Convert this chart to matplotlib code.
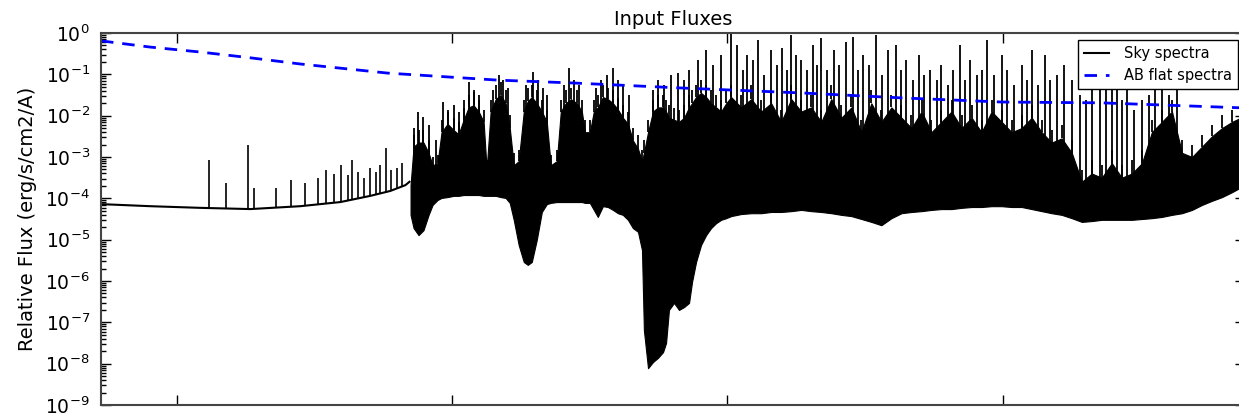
import numpy as np
import matplotlib
matplotlib.use("Agg")
import matplotlib.pyplot as plt

# wavelength in Angstrom, flux given as log10 of erg/s/cm2/A

# AB flat spectrum
ab_wave = [3447, 3803, 4167, 4532, 4896, 5530, 6330, 6884, 7663, 8537, 9265, 9993, 10721, 11733, 11762]
ab_logf = [-0.19, -0.34, -0.46, -0.60, -0.75, -0.97, -1.14, -1.21, -1.33, -1.45, -1.57, -1.67, -1.69, -1.81, -1.82]

# smooth blue continuum of the sky spectrum
cont_wave = [3447, 3803, 4167, 4532, 4896, 5187, 5405, 5551, 5660, 5689]
cont_logf = [-4.14, -4.19, -4.23, -4.26, -4.19, -4.09, -3.94, -3.82, -3.68, -3.60]

# isolated emission lines on the blue continuum
blue_line_wave = [4233, 4357, 4517, 4561, 4721, 4830, 4932, 5027, 5085, 5143, 5194,
                  5245, 5274, 5318, 5362, 5405, 5449, 5478, 5515, 5558, 5602, 5638]
blue_line_top = [-3.07, -3.63, -2.71, -3.75, -3.75, -3.56, -3.63, -3.51, -3.31, -3.41, -3.19,
                 -3.44, -3.07, -3.36, -3.51, -3.27, -3.36, -3.19, -2.78, -3.31, -3.27, -3.15]
blue_line_base = [-4.22, -4.24, -4.26, -4.26, -4.22, -4.20, -4.18, -4.15, -4.12, -4.10, -4.08,
                  -4.05, -4.03, -4.00, -3.97, -3.94, -3.91, -3.88, -3.86, -3.82, -3.77, -3.72]

# red part: lower edge, top of the solid band and top of the line clusters
forest_wave = [5697, 5719, 5755, 5791, 5828, 5857, 5893, 5922, 5966, 6010,
               6046, 6083, 6119, 6155, 6192, 6228, 6250, 6279, 6316, 6352,
               6388, 6418, 6447, 6483, 6520, 6549, 6578, 6614, 6651, 6687,
               6716, 6760, 6789, 6825, 6862, 6906, 6942, 6964, 7000, 7029,
               7058, 7095, 7131, 7168, 7204, 7240, 7277, 7313, 7350, 7379,
               7393, 7423, 7459, 7495, 7532, 7554, 7575, 7612, 7648, 7685,
               7721, 7743, 7772, 7808, 7845, 7881, 7918, 7954, 7991, 8027,
               8100, 8173, 8245, 8318, 8391, 8464, 8537, 8609, 8682, 8755,
               8828, 8901, 8974, 9046, 9119, 9192, 9265, 9338, 9411, 9483,
               9556, 9629, 9702, 9775, 9847, 9920, 9993, 10066, 10139, 10212,
               10284, 10357, 10430, 10503, 10576, 10648, 10721, 10794, 10867, 10940,
               11013, 11085, 11158, 11231, 11304, 11377, 11449, 11522, 11595, 11668, 11762]
forest_low = [-4.40, -4.72, -4.89, -4.77, -4.40, -4.16, -4.04, -3.99, -3.97, -3.94,
              -3.94, -3.92, -3.92, -3.92, -3.92, -3.94, -3.94, -3.94, -3.94, -3.97,
              -3.99, -4.11, -4.52, -5.13, -5.54, -5.61, -5.54, -5.01, -4.33, -4.14,
              -4.11, -4.09, -4.09, -4.09, -4.09, -4.09, -4.09, -4.11, -4.11, -4.28,
              -4.45, -4.19, -4.21, -4.28, -4.36, -4.40, -4.52, -4.72, -4.81, -5.25,
              -7.19, -8.11, -7.96, -7.86, -7.72, -7.50, -6.70, -6.53, -6.70, -6.63,
              -6.53, -6.02, -5.54, -5.13, -4.89, -4.72, -4.60, -4.52, -4.48, -4.43,
              -4.38, -4.36, -4.36, -4.33, -4.33, -4.31, -4.28, -4.31, -4.33, -4.36,
              -4.40, -4.43, -4.50, -4.57, -4.65, -4.48, -4.36, -4.33, -4.31, -4.28,
              -4.26, -4.26, -4.23, -4.21, -4.21, -4.19, -4.19, -4.21, -4.21, -4.26,
              -4.31, -4.36, -4.40, -4.48, -4.57, -4.55, -4.52, -4.52, -4.52, -4.52,
              -4.50, -4.48, -4.45, -4.40, -4.36, -4.28, -4.16, -4.06, -3.97, -3.85, -3.68]
forest_solid = [-3.68, -2.75, -2.65, -2.65, -2.90, -3.20, -3.15, -2.40, -2.20, -2.35,
                -2.45, -2.10, -1.80, -1.75, -1.90, -2.15, -3.30, -1.90, -1.60, -1.50,
                -1.70, -2.30, -3.20, -3.10, -1.90, -1.65, -1.55, -1.70, -1.90, -2.15,
                -3.20, -3.10, -1.90, -1.70, -1.60, -1.70, -1.90, -2.40, -2.40, -1.90,
                -1.80, -1.55, -1.60, -1.70, -1.85, -2.05, -2.20, -2.60, -2.80, -3.10,
                -2.90, -2.40, -1.90, -1.80, -1.80, -1.90, -2.05, -2.10, -2.15, -2.05,
                -1.80, -1.70, -1.55, -1.45, -1.55, -1.70, -1.80, -1.90, -1.70, -1.55,
                -1.80, -1.60, -1.90, -1.70, -2.15, -1.60, -1.90, -1.80, -2.15, -1.60,
                -2.05, -1.80, -2.40, -1.70, -2.15, -1.80, -2.05, -2.30, -1.90, -2.40,
                -2.15, -1.90, -2.30, -2.05, -2.40, -1.90, -2.15, -2.40, -2.30, -2.05,
                -2.40, -2.65, -2.55, -2.90, -3.60, -3.40, -3.50, -3.15, -3.50, -3.40,
                -3.15, -2.40, -2.15, -1.90, -2.90, -3.00, -2.75, -2.50, -2.30, -2.15, -2.00]
forest_peak = [-3.68, -2.47, -2.35, -2.35, -2.59, -3.00, -2.95, -2.10, -1.91, -2.06,
               -2.15, -1.81, -1.50, -1.43, -1.62, -1.86, -3.07, -1.62, -1.26, -1.19,
               -1.38, -1.98, -2.90, -2.83, -1.62, -1.33, -1.26, -1.38, -1.62, -1.86,
               -2.95, -2.83, -1.62, -1.38, -1.33, -1.38, -1.62, -2.10, -2.10, -1.62,
               -1.50, -1.26, -1.33, -1.38, -1.57, -1.74, -1.91, -2.30, -2.47, -2.83,
               -2.59, -2.10, -1.62, -1.50, -1.50, -1.62, -1.74, -1.81, -1.86, -1.74,
               -1.50, -1.38, -1.26, -1.14, -1.26, -1.38, -1.50, -1.62, -1.38, -1.26,
               -1.50, -1.26, -1.62, -1.38, -1.86, -1.26, -1.62, -1.50, -1.86, -1.26,
               -1.74, -1.50, -2.10, -1.38, -1.86, -1.50, -1.74, -1.98, -1.62, -2.10,
               -1.86, -1.62, -1.98, -1.74, -2.10, -1.62, -1.86, -2.10, -1.98, -1.74,
               -2.10, -2.35, -2.23, -2.59, -3.31, -3.07, -3.19, -2.83, -3.19, -3.07,
               -2.83, -2.10, -1.86, -1.62, -2.59, -2.71, -2.47, -2.23, -1.98, -1.86, -1.74]

# strong lines rising out of the forest
red_line_wave = [5719, 5748, 5791, 5828, 5879, 5930, 5966, 6010, 6046, 6083, 6119, 6155, 6192,
                 6294, 6338, 6367, 6403, 6534, 6585, 6621, 6658, 6687, 6811, 6847, 6884, 6920,
                 7044, 7080, 7124, 7168, 7204, 7240, 7284, 7459, 7495, 7539, 7590, 7641, 7685,
                 7721, 7787, 7845, 7896, 7954, 8027, 8071, 8114, 8143, 8187, 8223, 8267, 8318,
                 8362, 8398, 8435, 8464, 8500, 8537, 8580, 8624, 8653, 8682, 8726, 8777, 8813,
                 8864, 8915, 8952, 8988, 9032, 9083, 9127, 9170, 9228, 9265, 9301, 9352, 9396,
                 9432, 9469, 9520, 9556, 9600, 9643, 9687, 9724, 9760, 9811, 9847, 9884, 9935,
                 9993, 10029, 10080, 10139, 10175, 10212, 10255, 10306, 10342, 10394, 10445,
                 10503, 10561, 10605, 10648, 10707, 10750, 10794, 10831, 10867, 10903, 10954,
                 11013, 11064, 11107, 11158, 11209, 11267]
red_line_top = [-2.30, -1.91, -2.03, -2.23, -2.59, -1.67, -1.86, -1.74, -1.91, -1.62, -1.19, -1.38, -1.50,
                -1.38, -1.02, -1.14, -1.33, -1.26, -0.94, -1.14, -1.33, -1.50, -1.26, -0.85, -1.14, -1.26,
                -1.33, -1.14, -1.02, -0.85, -1.14, -1.26, -1.50, -1.38, -1.14, -1.26, -1.02, -0.97, -1.14,
                -0.90, -0.65, -0.41, -0.77, -0.53, -0.02, -0.29, -0.90, -0.53, -0.65, -0.17, -1.02, -0.41,
                -0.77, -0.36, -0.90, -0.05, -0.53, -0.65, -0.90, -0.29, -0.77, -0.12, -0.90, -0.41, -0.77,
                -0.22, -0.10, -0.90, -0.53, -0.77, -0.05, -1.02, -0.41, -0.29, -0.90, -0.65, -1.14, -0.53,
                -1.02, -0.90, -1.14, -0.77, -1.26, -0.90, -0.29, -1.14, -0.65, -1.02, -0.90, -0.17, -1.02,
                -0.53, -0.90, -1.26, -0.77, -1.14, -0.41, -1.26, -0.53, -1.14, -1.02, -0.77,
                -1.14, -1.50, -1.62, -0.90, -1.02, -0.90, -1.26, -0.90, -1.62, -1.38, -1.86,
                -1.62, -1.50, -1.38, -1.02, -1.50, -1.26]

x_ticks = [4000, 6000, 8000, 10000]

fig = plt.figure(figsize=(12.39, 4.2), dpi=100)
ax = fig.add_axes([101 / 1239, 15 / 420, 1144 / 1239, 372 / 420])

ax.plot(cont_wave, 10 ** np.array(cont_logf), color='k', lw=1.5, label='Sky spectra')
ax.vlines(blue_line_wave, 10 ** np.array(blue_line_base), 10 ** np.array(blue_line_top),
          color='k', lw=1.2)
ax.fill_between(forest_wave, 10 ** np.array(forest_low), 10 ** np.array(forest_solid),
                color='k', lw=0.8)
ax.vlines(forest_wave, 10 ** np.array(forest_solid), 10 ** np.array(forest_peak),
          color='k', lw=1.3)
ax.vlines(red_line_wave, 10 ** -3.9, 10 ** np.array(red_line_top), color='k', lw=1.3)
ax.plot(ab_wave, 10 ** np.array(ab_logf), color='b', lw=2.0, dashes=(4.5, 3.2),
        label='AB flat spectra')

ax.set_yscale('log')
ax.set_ylim(1e-9, 1)
ax.set_xlim(3447, 11762)
ax.set_xticks(x_ticks)
ax.tick_params(which='both', direction='in', top=True, right=True,
               labelbottom=False, labelsize=13.5, pad=8)
ax.tick_params(which='major', length=7, width=1)
ax.tick_params(which='minor', length=3.5, width=1)
for s in ax.spines.values():
    s.set_linewidth(1.5)
    s.set_color('#444444')

ax.set_ylabel('Relative Flux (erg/s/cm2/A)', fontsize=14, labelpad=6)
ax.set_title('Input Fluxes', fontsize=14, pad=6)

leg = ax.legend(loc='upper right', fontsize=10.5, fancybox=False, framealpha=1,
                edgecolor='k', borderaxespad=0.5, borderpad=0.4, handlelength=1.75,
                handletextpad=1.0)
leg.get_frame().set_linewidth(1.0)

fig.savefig('out.png', dpi=100)
